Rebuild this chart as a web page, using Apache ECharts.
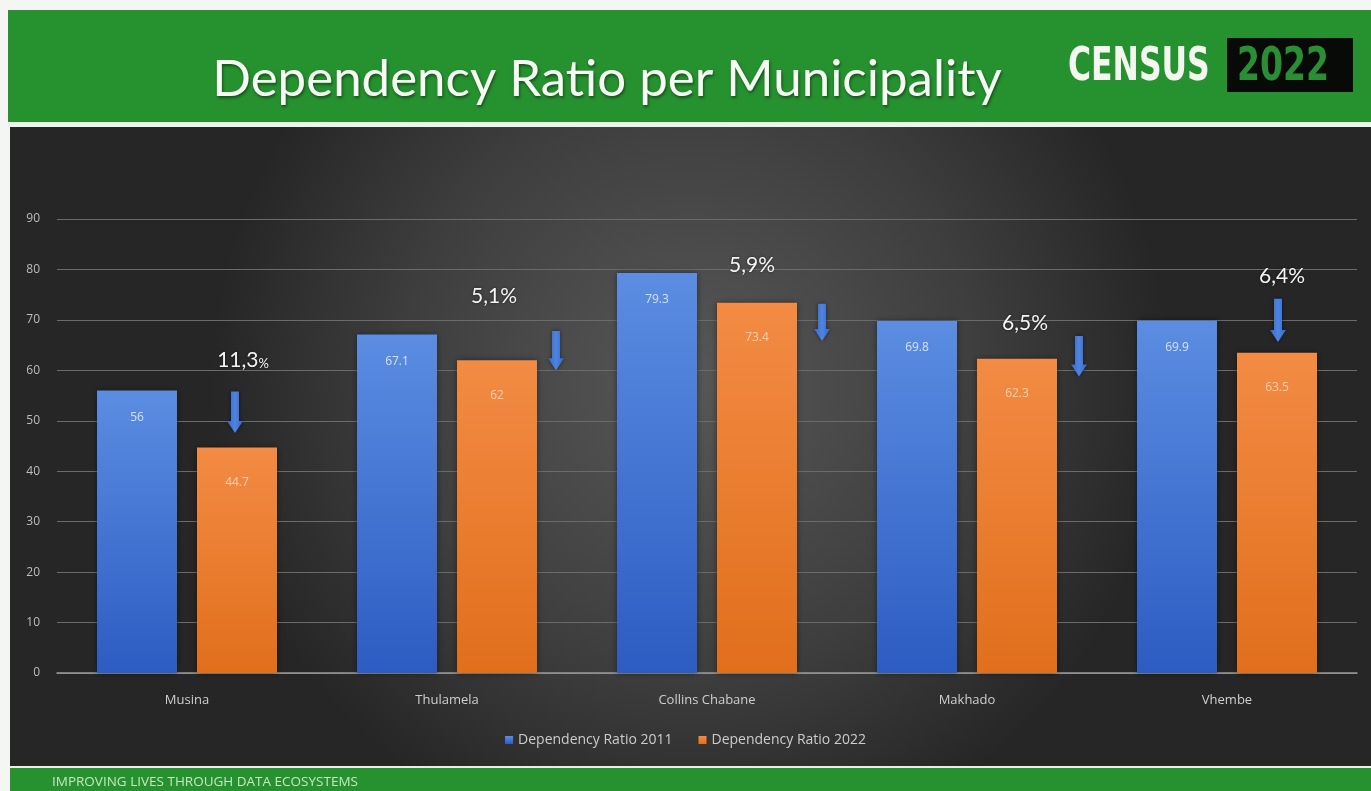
<!DOCTYPE html>
<html>
<head>
<meta charset="utf-8">
<script src="https://cdn.jsdelivr.net/npm/echarts@6/dist/echarts.min.js"></script>
<style>
  html, body { margin: 0; padding: 0; background: #f4f6f4; }
  #chart { width: 1371px; height: 791px; }
</style>
</head>
<body>
<div id="chart"></div>
<script>
// Municipalities and dependency ratios for the two census years
const municipalities = ['Musina', 'Thulamela', 'Collins Chabane', 'Makhado', 'Vhembe'];
const ratio2011 = [56, 67.1, 79.3, 69.8, 69.9];
const ratio2022 = [44.7, 62, 73.4, 62.3, 63.5];
const changeLabels = ['11,3%', '5,1%', '5,9%', '6,5%', '6,4%'];
const yTicks = [0, 10, 20, 30, 40, 50, 60, 70, 80, 90];

// Placement of the decline callouts: pixel shift from the category centre
// and the axis values where the text and the arrow sit.
const calloutLayout = [
  { textDx: 56, textY: 62.1, arrowDx: 48, arrowTop: 55.8, arrowBottom: 47.6 },
  { textDx: 47, textY: 74.6, arrowDx: 109, arrowTop: 67.8, arrowBottom: 60.0 },
  { textDx: 45, textY: 80.8, arrowDx: 115, arrowTop: 73.2, arrowBottom: 65.8 },
  { textDx: 58, textY: 69.4, arrowDx: 112, arrowTop: 66.8, arrowBottom: 58.8 },
  { textDx: 55, textY: 78.6, arrowDx: 51, arrowTop: 74.2, arrowBottom: 65.6 }
];

const chart = echarts.init(document.getElementById('chart'), null, { renderer: 'canvas' });

const blueFill = new echarts.graphic.LinearGradient(0, 0, 0, 1, [
  { offset: 0, color: '#5b8de2' },
  { offset: 1, color: '#2d5cc2' }
]);
const orangeFill = new echarts.graphic.LinearGradient(0, 0, 0, 1, [
  { offset: 0, color: '#f38b44' },
  { offset: 1, color: '#e16f1c' }
]);

function renderCallout(params, api) {
  const i = params.dataIndex;
  const L = calloutLayout[i];
  const base = api.coord([i, 0]);
  const tp = api.coord([i, L.textY]);
  const at = api.coord([i, L.arrowTop]);
  const ab = api.coord([i, L.arrowBottom]);
  const ax = base[0] + L.arrowDx;
  const headLen = 12, shaftW = 4, headW = 8;
  const pct = changeLabels[i];
  const num = pct.replace('%', '');
  return {
    type: 'group',
    children: [
      {
        type: 'text',
        x: base[0] + L.textDx,
        y: tp[1],
        style: {
          text: i === 0 ? '{n|' + num + '}{p|%}' : pct,
          rich: {
            n: { fontSize: 21, fontFamily: 'Lato, sans-serif', fill: '#f4f4f4' },
            p: { fontSize: 13, fontFamily: 'Lato, sans-serif', fill: '#f4f4f4', verticalAlign: 'bottom', padding: [4, 0, 0, 0] }
          },
          fontSize: 21,
          fontFamily: 'Lato, sans-serif',
          fill: '#f4f4f4',
          align: 'center',
          verticalAlign: 'middle',
          textShadowColor: 'rgba(0,0,0,0.6)',
          textShadowBlur: 3
        }
      },
      {
        type: 'polygon',
        shape: {
          points: [
            [ax - shaftW, at[1]],
            [ax + shaftW, at[1]],
            [ax + shaftW, ab[1] - headLen],
            [ax + headW, ab[1] - headLen],
            [ax, ab[1]],
            [ax - headW, ab[1] - headLen],
            [ax - shaftW, ab[1] - headLen]
          ]
        },
        style: {
          fill: new echarts.graphic.LinearGradient(0, 0, 1, 0, [
            { offset: 0, color: '#3566c8' },
            { offset: 0.5, color: '#4f84e0' },
            { offset: 1, color: '#3566c8' }
          ]),
          shadowColor: 'rgba(0,0,0,0.5)',
          shadowBlur: 4
        }
      }
    ]
  };
}

const option = {
  animation: false,
  textStyle: { fontFamily: 'Lato, "Noto Sans", sans-serif' },
  graphic: [
    // panel background
    {
      type: 'rect', left: 10, top: 127, z: -10,
      shape: { width: 1361, height: 639 },
      style: {
        fill: new echarts.graphic.RadialGradient(0.5, 0.4, 0.75, [
          { offset: 0, color: '#575757' },
          { offset: 0.6, color: '#3e3e3e' },
          { offset: 1, color: '#262626' }
        ])
      }
    },
    // header band
    { type: 'rect', left: 8, top: 10, z: -10, shape: { width: 1363, height: 112 }, style: { fill: '#25912f' } },
    { type: 'rect', left: 8, top: 122, z: -10, shape: { width: 1363, height: 5 }, style: { fill: '#eef5ea' } },
    {
      type: 'text', x: 607, y: 80, z: 5,
      style: {
        text: 'Dependency Ratio per Municipality',
        align: 'center', verticalAlign: 'middle',
        fontSize: 51, fontFamily: 'Lato, sans-serif', fill: '#f6fbf3',
        textShadowColor: 'rgba(0,0,0,0.45)', textShadowBlur: 3, textShadowOffsetX: 1, textShadowOffsetY: 2
      }
    },
    // CENSUS 2022 badge
    {
      type: 'text', x: 1068, y: 45, scaleX: 0.76, z: 5,
      style: {
        text: 'CENSUS', fontSize: 46, fontWeight: 'bold',
        fontFamily: '"DejaVu Sans Condensed", "DejaVu Sans", sans-serif', fill: '#f3f7f0'
      }
    },
    { type: 'rect', left: 1227, top: 38, z: 4, shape: { width: 126, height: 54 }, style: { fill: '#070a07' } },
    {
      type: 'text', x: 1237, y: 45, scaleX: 0.8, z: 5,
      style: {
        text: '2022', fontSize: 46, fontWeight: 'bold',
        fontFamily: '"DejaVu Sans Condensed", "DejaVu Sans", sans-serif', fill: '#2a8f34'
      }
    },
    // footer band
    { type: 'rect', left: 10, top: 766, z: -10, shape: { width: 1361, height: 2 }, style: { fill: '#e8f0e4' } },
    { type: 'rect', left: 10, top: 768, z: -10, shape: { width: 1361, height: 23 }, style: { fill: '#25912f' } },
    {
      type: 'text', x: 52, y: 775, z: 5,
      style: {
        text: 'IMPROVING LIVES THROUGH DATA ECOSYSTEMS', fontSize: 13.5,
        fontFamily: '"Open Sans", sans-serif', fill: '#c8e6c0'
      }
    }
  ],
  legend: {
    bottom: 39,
    left: 'center',
    itemWidth: 8,
    itemHeight: 8,
    itemGap: 26,
    icon: 'rect',
    textStyle: { color: '#cccccc', fontSize: 14, fontFamily: '"Open Sans", sans-serif' },
    data: ['Dependency Ratio 2011', 'Dependency Ratio 2022']
  },
  grid: { left: 57, right: 14, top: 219, bottom: 118, containLabel: false },
  xAxis: {
    type: 'category',
    data: municipalities,
    axisTick: { show: false },
    axisLine: { lineStyle: { color: '#9a9a9a', width: 1.5 } },
    axisLabel: { color: '#cfcfcf', fontSize: 13, margin: 21, fontFamily: '"Open Sans", sans-serif' }
  },
  yAxis: {
    type: 'value',
    min: yTicks[0],
    max: yTicks[yTicks.length - 1],
    interval: 10,
    axisLine: { show: false },
    axisTick: { show: false },
    axisLabel: { color: '#bdbdbd', fontSize: 12, margin: 17, fontFamily: '"Open Sans", sans-serif' },
    splitLine: { lineStyle: { color: '#6b6b6b', width: 1 } }
  },
  series: [
    {
      name: 'Dependency Ratio 2011',
      type: 'bar',
      data: ratio2011,
      barWidth: 80,
      barGap: '25%',
      itemStyle: { color: blueFill, shadowColor: 'rgba(0,0,0,0.45)', shadowBlur: 6 },
      label: {
        show: true, position: 'insideTop', distance: 21,
        color: 'rgba(235,240,255,0.85)', fontSize: 12, fontFamily: '"Open Sans", sans-serif'
      }
    },
    {
      name: 'Dependency Ratio 2022',
      type: 'bar',
      data: ratio2022,
      barWidth: 80,
      itemStyle: { color: orangeFill, shadowColor: 'rgba(0,0,0,0.45)', shadowBlur: 6 },
      label: {
        show: true, position: 'insideTop', distance: 29,
        color: 'rgba(255,235,220,0.7)', fontSize: 12, fontFamily: '"Open Sans", sans-serif'
      }
    },
    {
      name: 'decline',
      type: 'custom',
      data: changeLabels.map((_, i) => i),
      renderItem: renderCallout,
      z: 10,
      silent: true
    }
  ]
};
chart.setOption(option);
</script>
</body>
</html>
